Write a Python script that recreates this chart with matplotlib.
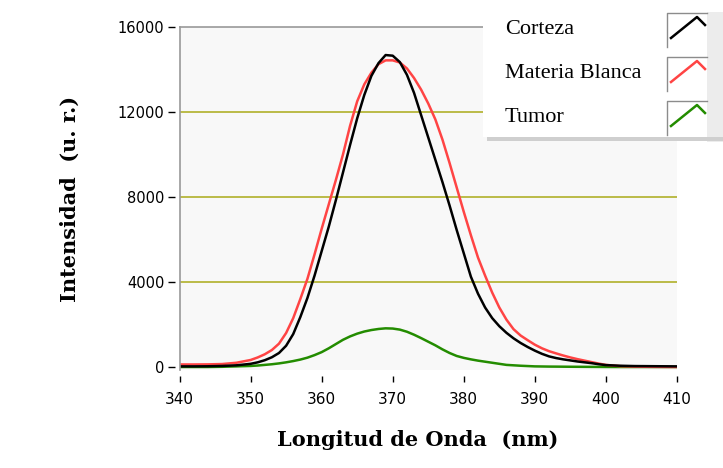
import matplotlib
matplotlib.use('Agg')
import matplotlib.pyplot as plt
from matplotlib.patches import Rectangle
from matplotlib.lines import Line2D

# Longitud de onda (nm)
wl = [340, 342, 344, 346, 348] + list(range(350, 401)) + [402, 404, 406, 408, 410]

corteza = [30, 30, 35, 50, 80,
           150, 220, 320, 460, 660, 1000, 1550, 2350, 3250, 4300,
           5450, 6600, 7850, 9150, 10450, 11700, 12800, 13700, 14300, 14680,
           14650, 14350, 13750, 12900, 11850, 10800, 9750, 8700, 7600, 6450,
           5350, 4250, 3450, 2800, 2300, 1920, 1610, 1350, 1130, 940,
           770, 620, 500, 420, 360, 310, 260, 220, 180, 130,
           90, 60, 45, 40, 35, 30]

materia_blanca = [120, 120, 125, 140, 200,
                  330, 450, 600, 800, 1100, 1600, 2300, 3200, 4150, 5300,
                  6500, 7650, 8800, 10000, 11350, 12500, 13300, 13850, 14250, 14430,
                  14430, 14330, 14050, 13600, 13050, 12400, 11650, 10700, 9600, 8450,
                  7300, 6200, 5150, 4300, 3500, 2800, 2230, 1780, 1480, 1260,
                  1050, 880, 745, 640, 540, 450, 370, 300, 230, 160,
                  100, 40, 20, 10, 5, 0]

tumor = [0, 0, 0, 10, 30,
         50, 70, 100, 130, 170, 220, 280, 350, 440, 560,
         700, 880, 1080, 1280, 1440, 1570, 1670, 1740, 1790, 1820,
         1810, 1760, 1660, 1520, 1360, 1190, 1020, 830, 660, 520,
         430, 360, 300, 250, 200, 150, 100, 80, 60, 45,
         30, 25, 20, 18, 15, 12, 10, 8, 6, 4,
         2, 0, 0, 0, 0, 0]

series_names = ['Corteza', 'Materia Blanca', 'Tumor']
series_colors = ['#000000', '#ff4444', '#238c00']

yticks = [0, 4000, 8000, 12000, 16000]
xticks = list(range(340, 411, 10))

fig = plt.figure(figsize=(7.23, 4.68), dpi=100)
ax = fig.add_axes([179.5 / 723, 1 - 370.2 / 468, 497.5 / 723, 343.2 / 468])
ax.set_facecolor('#f8f8f8')

# rejilla horizontal
for yv in yticks[1:-1]:
    ax.axhline(yv, color='#b0b02a', lw=1.2, zorder=1)

ax.plot(wl, tumor, color=series_colors[2], lw=1.8, zorder=3)
ax.plot(wl, materia_blanca, color=series_colors[1], lw=1.8, zorder=4)
ax.plot(wl, corteza, color=series_colors[0], lw=1.8, zorder=5)

ax.set_xlim(340, 410)
ax.set_ylim(-150, 16000)

# bordes: sólo izquierda y arriba en gris
for s in ['right', 'bottom', 'left', 'top']:
    ax.spines[s].set_color('none')
ax.spines['left'].set_position(('outward', 3))
ax.spines['bottom'].set_position(('outward', 4))
ax.axvline(340, color='#999999', lw=1.2, zorder=6, clip_on=False)
ax.axhline(16000, color='#999999', lw=1.2, zorder=6, clip_on=False)

ax.set_xticks(xticks)
ax.set_yticks(yticks)
ax.set_yticklabels([str(v) for v in yticks])
ax.tick_params(axis='y', direction='out', length=5, width=1, color='black',
               labelsize=10.5, pad=3)
ax.tick_params(axis='x', direction='out', length=4.5, width=1, color='black',
               labelsize=11, pad=7)

fig.text(418 / 723, 1 - 440 / 468, 'Longitud de Onda  (nm)', ha='center', va='center',
         family='DejaVu Serif', weight='bold', fontsize=15)
fig.text(70 / 723, 1 - 199 / 468, 'Intensidad  (u. r.)', ha='center', va='center',
         rotation=90, family='DejaVu Serif', weight='bold', fontsize=15)

# leyenda dibujada en coordenadas de pixel
ov = fig.add_axes([0, 0, 1, 1], zorder=10)
ov.set_xlim(0, 723)
ov.set_ylim(468, 0)
ov.axis('off')
ov.patch.set_alpha(0)
ov.add_patch(Rectangle((707, 12), 16, 130, color='#ececec', lw=0))
ov.add_patch(Rectangle((487, 137), 236, 4, color='#cfcfcf', lw=0))
ov.add_patch(Rectangle((483, -2), 224, 139, color='white', lw=0))

label_y = [29, 73, 117]
box_top = [13, 57, 101]
for name, col, ty, bt in zip(series_names, series_colors, label_y, box_top):
    ov.text(505, ty, name, ha='left', va='center', family='Liberation Serif', fontsize=16)
    ov.add_line(Line2D([667, 667, 707], [bt + 34, bt, bt], color='#8c8c8c', lw=1))
    ov.add_line(Line2D([671, 697, 705], [bt + 25, bt + 4, bt + 12], color=col, lw=1.8))

fig.savefig('out.png', dpi=100)
